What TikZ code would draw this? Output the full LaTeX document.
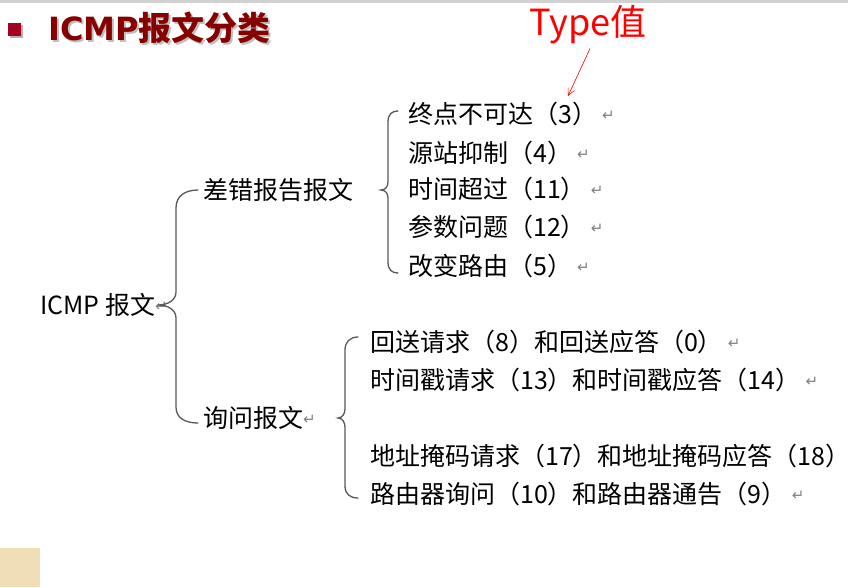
\documentclass[tikz,border=0pt]{standalone}
\usepackage{fontspec}
\setmainfont{Noto Sans CJK SC}
\newfontfamily\cjk{Noto Sans CJK SC}
\newfontfamily\heavylatin{DejaVu Sans}
\newfontfamily\symfont{DejaVu Sans}
\usetikzlibrary{arrows.meta}
\definecolor{titlered}{RGB}{135,0,0}
\definecolor{bulletred}{RGB}{165,0,33}
\definecolor{beige}{RGB}{240,222,182}
\newcommand\retmark{\raisebox{3pt}{\symfont\fontsize{15}{15}\selectfont\color{black!50}↵}}
\begin{document}
\begin{tikzpicture}[x=1pt,y=-1pt,
  item/.style={anchor=west,inner sep=0pt,font=\cjk\fontsize{25}{30}\selectfont,text=black},
  titletxt/.style={anchor=west,inner sep=0pt},
  bracket/.style={draw=black!65,line width=1.3pt,line cap=round},
  pointer/.style={draw=red,line width=0.6pt,-{Straight Barb[length=7pt,width=7pt]}}]
\useasboundingbox (0,0) rectangle (848,587);
\fill[white] (0,0) rectangle (848,587);
\fill[black!18] (0,0) rectangle (848,3);
\fill[beige] (0,548) rectangle (40,587);

% slide title with soft shadow
\fill[black!30] (10,25) rectangle (23,38);
\fill[bulletred] (8,23) rectangle (21,36);
\node[titletxt,text=black!25] at (50,30) {{\heavylatin\bfseries\fontsize{32}{36}\selectfont ICMP}{\cjk\bfseries\fontsize{33}{36}\selectfont 报文分类}};
\node[titletxt,text=titlered] (title) at (48,28) {{\heavylatin\bfseries\fontsize{32}{36}\selectfont ICMP}{\cjk\bfseries\fontsize{33}{36}\selectfont 报文分类}};

% annotation
\node[inner sep=0pt,text=red,font=\cjk\fontsize{36}{40}\selectfont] (typelabel) at (588,25) {Type值};
\coordinate (typetip) at (568,96);
\draw[pointer] ([xshift=2pt,yshift=-4pt]typelabel.south) -- (typetip);

% root and second level
\node[item] (root) at (40,305) {ICMP 报文\retmark};
\node[item] (err) at (203,190) {差错报告报文};
\node[item] (query) at (203,418) {询问报文\retmark};

% error report messages
\node[item] (e1) at (408,114) {终点不可达（3）\hspace{5pt}\retmark};
\node[item] (e2) at (408,153) {源站抑制（4）\hspace{5pt}\retmark};
\node[item] (e3) at (408,189) {时间超过（11）\hspace{5pt}\retmark};
\node[item] (e4) at (408,227) {参数问题（12）\hspace{5pt}\retmark};
\node[item] (e5) at (408,266) {改变路由（5）\hspace{5pt}\retmark};

% query messages
\node[item] (q1) at (370,342) {回送请求（8）和回送应答（0）\hspace{5pt}\retmark};
\node[item] (q2) at (370,380) {时间戳请求（13）和时间戳应答（14）\hspace{5pt}\retmark};
\node[item] (q3) at (370,456) {地址掩码请求（17）和地址掩码应答（18）};
\node[item] (q4) at (370,494) {路由器询问（10）和路由器通告（9）\hspace{5pt}\retmark};

% curly brackets
\draw[bracket] (198,190) .. controls (185,190) and (176,196) .. (176,208) -- (176,292)
  .. controls (176,300) and (168,305) .. (158,305)
  .. controls (168,305) and (176,310) .. (176,318) -- (176,407)
  .. controls (176,418) and (185,423) .. (198,423);
\draw[bracket] (398,111) .. controls (392,111) and (388,114) .. (388,122) -- (388,182)
  .. controls (388,187) and (385,190) .. (381,190)
  .. controls (385,190) and (388,193) .. (388,198) -- (388,262)
  .. controls (388,270) and (392,273) .. (398,273);
\draw[bracket] (358,337) .. controls (350,337) and (345,342) .. (345,350) -- (345,409)
  .. controls (345,414) and (342,418) .. (338,418)
  .. controls (342,418) and (345,422) .. (345,427) -- (345,486)
  .. controls (345,494) and (350,498) .. (358,498);
\end{tikzpicture}
\end{document}
